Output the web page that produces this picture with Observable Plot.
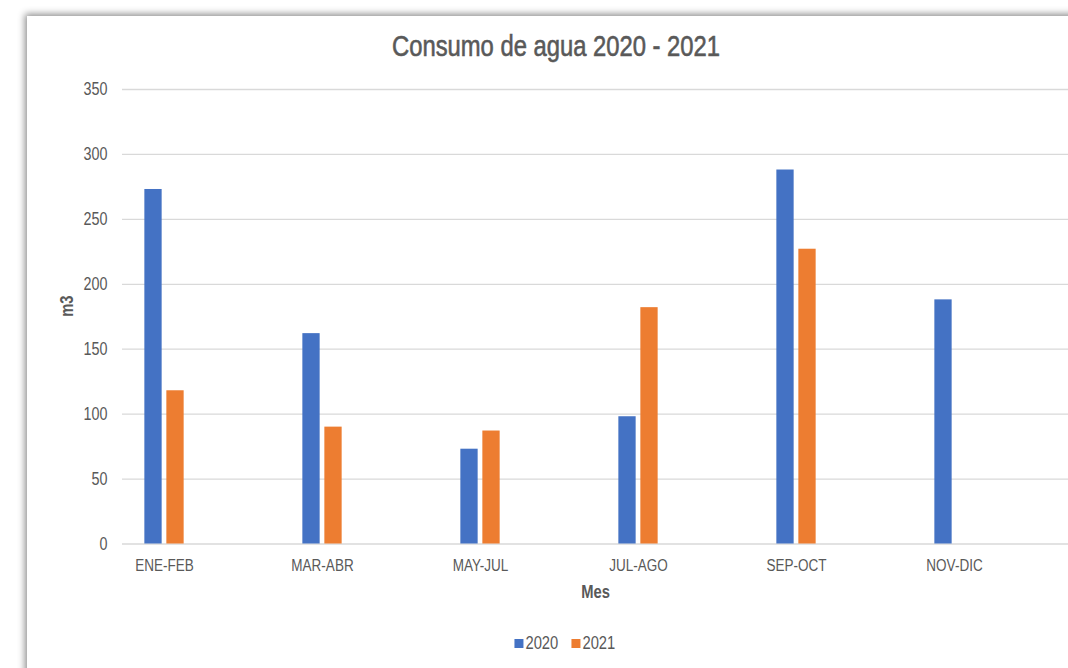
<!DOCTYPE html>
<html>
<head>
<meta charset="utf-8">
<script src="https://cdn.jsdelivr.net/npm/d3@7"></script>
<script src="https://cdn.jsdelivr.net/npm/@observablehq/plot@0.6"></script>
<style>
  html, body { margin: 0; padding: 0; background: #ffffff; width: 1068px; height: 668px; overflow: hidden; }
  body { font-family: "Liberation Sans", Arial, sans-serif; }
  #card {
    position: absolute; left: 27px; top: 16px; width: 1100px; height: 700px;
    background: #ffffff; overflow: hidden;
    box-shadow: -2px -2px 7px rgba(0,0,0,0.45);
  }
  #title {
    position: absolute; left: 529px; top: 14px; transform: translateX(-50%) scaleX(0.82);
    white-space: nowrap; font-size: 29px; color: #595959;
    -webkit-text-stroke: 0.6px #595959;
  }
  #chart { position: absolute; left: 0; top: 0; }
  #legend {
    position: absolute; top: 617px; left: 538px; transform: translateX(-50%);
    display: flex; align-items: center; gap: 13px; white-space: nowrap;
    font-size: 18px; color: #595959;
  }
  .item { display: flex; align-items: center; gap: 2px; }
  .sw { width: 9px; height: 9px; display: inline-block; }
  .lbl { display: inline-block; transform: scaleX(0.82); transform-origin: left center; margin-right: -7px; }
</style>
</head>
<body>
<div id="card">
  <div id="title"></div>
  <div id="chart"></div>
  <div id="legend"></div>
</div>
<script>
const titleText = "Consumo de agua 2020 - 2021";
const categories = ["ENE-FEB", "MAR-ABR", "MAY-JUL", "JUL-AGO", "SEP-OCT", "NOV-DIC"];
const seriesNames = ["2020", "2021"];
const values2020 = [273, 162, 73, 98, 288, 188];
const values2021 = [118, 90, 87, 182, 227, null];
const yTicks = [0, 50, 100, 150, 200, 250, 300, 350];
const xLabel = "Mes";
const yLabel = "m3";
const colors = ["#4472C4", "#ED7D31"];

const font = '"Liberation Sans", Arial, sans-serif';

document.getElementById("title").textContent = titleText;

const d2020 = categories.map((c, i) => ({cat: c, value: values2020[i]})).filter(d => d.value != null);
const d2021 = categories.map((c, i) => ({cat: c, value: values2021[i]})).filter(d => d.value != null);

const W = 1041, H = 652;
const barInset = (158.2 - 17.5) / 2;

const chart = Plot.plot({
  width: W,
  height: H,
  marginLeft: 95,
  marginRight: 0,
  marginTop: 73,
  marginBottom: 124.5,
  style: {background: "transparent", fontFamily: font, color: "#595959", overflow: "visible"},
  x: {domain: categories, range: [57, 1006], padding: 0, label: null},
  y: {domain: [0, 350], label: null},
  marks: [
    Plot.gridY(yTicks, {stroke: "#d9d9d9", strokeOpacity: 1, strokeWidth: 1.3}),
    Plot.axisY({ticks: yTicks, tickSize: 0, tickPadding: 15, fontSize: 17.5, label: null, fill: "#595959"}),
    Plot.axisX({tickSize: 0, tickPadding: 15, fontSize: 16.5, label: null, fill: "#595959"}),
    Plot.barY(d2020, {x: "cat", y: "value", fill: colors[0], insetLeft: barInset, insetRight: barInset, dx: -11}),
    Plot.barY(d2021, {x: "cat", y: "value", fill: colors[1], insetLeft: barInset, insetRight: barInset, dx: 11}),
    Plot.text([xLabel], {frameAnchor: "bottom", dy: 48, lineAnchor: "middle", fontSize: 18, fontWeight: "bold", fill: "#595959"}),
    Plot.text([yLabel], {frameAnchor: "left", dx: -55, rotate: -90, fontSize: 18, fontWeight: "bold", fill: "#595959"})
  ]
});
// narrow the text horizontally (Arial-Narrow-like look)
chart.querySelectorAll("text").forEach(el => {
  const t = el.getAttribute("transform");
  if (t) {
    el.setAttribute("transform", t + " scale(0.82,1)");
  } else {
    const x = +(el.getAttribute("x") || 0), y = +(el.getAttribute("y") || 0);
    el.removeAttribute("x"); el.removeAttribute("y");
    el.setAttribute("transform", `translate(${x},${y}) scale(0.82,1)`);
  }
});
document.getElementById("chart").appendChild(chart);

const legend = document.getElementById("legend");
seriesNames.forEach((name, i) => {
  const item = document.createElement("div");
  item.className = "item";
  const sw = document.createElement("span");
  sw.className = "sw";
  sw.style.background = colors[i];
  const label = document.createElement("span");
  label.className = "lbl";
  label.textContent = name;
  item.appendChild(sw);
  item.appendChild(label);
  legend.appendChild(item);
});
</script>
</body>
</html>
